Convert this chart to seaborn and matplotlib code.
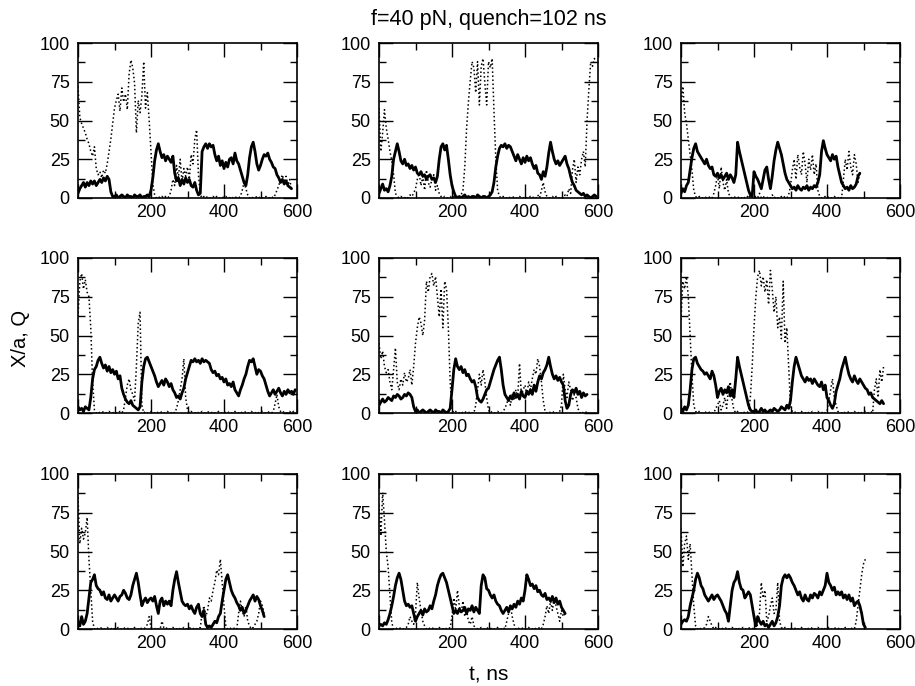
import matplotlib
matplotlib.use("Agg")
import matplotlib.pyplot as plt
import numpy as np
import seaborn as sns

# sampling step of the traces (ns)
DT = 5

# X/a traces (solid) and Q traces (dotted), row by row
x1 = [3, 6, 8, 10, 7, 10, 8, 11, 9, 11, 8, 10, 12, 10, 13, 11, 14, 12, 4, 1,
      1, 2, 0, 1, 2, 1, 0, 2, 1, 1, 0, 2, 1, 1, 2, 0, 1, 1, 2, 1,
      5, 13, 24, 31, 35, 30, 26, 28, 24, 27, 25, 23, 27, 16, 11, 13, 8, 12, 9, 13,
      10, 12, 8, 7, 10, 5, 2, 3, 30, 33, 35, 32, 35, 33, 34, 28, 24, 27, 21, 24,
      19, 23, 20, 25, 26, 22, 29, 24, 22, 18, 14, 10, 8, 15, 26, 33, 36, 30, 22, 18,
      21, 25, 28, 27, 29, 25, 23, 20, 19, 15, 13, 10, 12, 9, 11, 8, 7, 6]
q1 = [72, 52, 48, 45, 42, 38, 35, 30, 27, 33, 19, 15, 17, 13, 18, 16, 22, 30, 38, 48,
      58, 63, 67, 56, 71, 62, 67, 57, 80, 89, 84, 74, 42, 63, 55, 66, 88, 58, 68, 50,
      30, 9, 2, 0, 1, 0, 1, 0, 1, 0, 1, 5, 12, 8, 21, 13, 25, 10, 19, 14,
      20, 12, 28, 22, 38, 44, 15, 2, 0, 1, 0, 1, 0, 0, 1, 0, 1, 0, 0, 1,
      0, 1, 0, 0, 1, 0, 1, 0, 0, 1, 5, 10, 6, 2, 0, 1, 0, 0, 1, 0,
      1, 0, 0, 1, 0, 0, 1, 0, 2, 5, 8, 12, 15, 10, 14, 8, 12, 6]

x2 = [3, 6, 9, 5, 6, 4, 8, 14, 25, 30, 35, 30, 24, 22, 25, 21, 22, 19, 21, 18,
      20, 16, 15, 17, 14, 15, 12, 14, 15, 12, 13, 10, 14, 25, 33, 35, 31, 34, 25, 15,
      8, 4, 1, 0, 1, 0, 1, 2, 0, 1, 0, 1, 1, 0, 2, 1, 0, 1, 1, 0,
      1, 2, 4, 10, 20, 27, 32, 34, 33, 35, 32, 34, 33, 30, 27, 24, 28, 25, 22, 26,
      23, 27, 24, 26, 22, 19, 21, 16, 15, 12, 17, 14, 20, 29, 36, 30, 25, 22, 24, 21,
      23, 25, 27, 22, 19, 14, 10, 8, 5, 4, 3, 2, 3, 1, 2, 1, 0, 1, 2, 1]
q2 = [58, 30, 42, 57, 45, 38, 30, 24, 15, 3, 1, 0, 1, 0, 0, 1, 0, 2, 1, 3,
      6, 12, 16, 8, 14, 5, 18, 10, 7, 12, 15, 5, 8, 3, 1, 0, 1, 0, 0, 1,
      0, 1, 0, 1, 0, 2, 5, 20, 45, 62, 76, 88, 84, 68, 88, 60, 85, 90, 74, 60,
      88, 84, 90, 56, 25, 5, 1, 0, 1, 0, 0, 1, 0, 0, 1, 0, 0, 1, 0, 0,
      1, 0, 0, 1, 0, 1, 0, 2, 0, 5, 10, 4, 1, 0, 0, 1, 0, 1, 0, 0,
      1, 0, 2, 1, 6, 3, 18, 25, 10, 20, 15, 25, 30, 20, 50, 70, 88, 85, 90, 88]

x3 = [3, 6, 4, 8, 10, 18, 26, 32, 35, 30, 28, 26, 24, 22, 25, 21, 19, 20, 15, 14,
      16, 13, 15, 12, 14, 16, 12, 15, 13, 10, 15, 36, 30, 25, 20, 15, 10, 5, 2, 1,
      17, 14, 12, 9, 6, 12, 18, 20, 12, 6, 14, 24, 31, 36, 32, 28, 22, 16, 12, 10,
      8, 6, 7, 5, 8, 6, 5, 7, 6, 8, 5, 7, 6, 8, 7, 10, 15, 30, 37, 32,
      28, 26, 24, 28, 25, 27, 20, 15, 10, 8, 6, 7, 5, 8, 6, 7, 9, 14, 16]
q3 = [60, 72, 55, 48, 38, 28, 18, 5, 1, 0, 1, 0, 0, 1, 0, 0, 1, 0, 3, 8,
      15, 6, 20, 10, 5, 12, 3, 1, 0, 1, 0, 0, 1, 0, 1, 0, 0, 2, 0, 1,
      0, 1, 0, 3, 0, 1, 0, 0, 1, 0, 2, 0, 1, 0, 0, 1, 0, 1, 0, 2,
      8, 18, 25, 12, 28, 20, 15, 30, 22, 10, 25, 18, 28, 15, 22, 5, 1, 0, 0, 1,
      0, 1, 0, 0, 1, 0, 0, 1, 0, 12, 25, 18, 30, 20, 15, 28, 22, 10, 16]

x4 = [4, 2, 3, 1, 4, 3, 2, 10, 22, 28, 30, 34, 36, 32, 29, 31, 27, 30, 26, 28,
      25, 27, 22, 24, 16, 12, 9, 7, 6, 8, 5, 4, 3, 2, 4, 20, 30, 35, 36, 33,
      30, 27, 24, 20, 17, 19, 21, 18, 22, 20, 17, 19, 15, 13, 10, 11, 9, 13, 16, 22,
      26, 30, 34, 33, 35, 33, 34, 32, 35, 33, 34, 33, 32, 28, 26, 27, 24, 25, 22, 23,
      20, 22, 18, 19, 17, 20, 15, 13, 11, 15, 18, 22, 25, 30, 34, 33, 35, 30, 25, 28,
      27, 24, 22, 18, 14, 11, 13, 15, 12, 14, 16, 13, 11, 14, 12, 15, 13, 14, 12, 15]
q4 = [62, 85, 90, 80, 86, 78, 75, 55, 20, 2, 0, 1, 0, 0, 1, 0, 0, 1, 0, 0,
      1, 0, 0, 1, 0, 2, 10, 18, 22, 15, 12, 8, 30, 58, 65, 5, 0, 1, 0, 0,
      1, 0, 0, 1, 0, 0, 1, 0, 0, 1, 0, 0, 1, 0, 3, 8, 15, 22, 35, 10,
      2, 0, 1, 0, 0, 1, 0, 0, 1, 0, 0, 1, 0, 0, 1, 0, 0, 1, 0, 0,
      1, 0, 0, 1, 0, 0, 1, 0, 0, 1, 0, 0, 1, 0, 0, 1, 0, 0, 1, 0,
      0, 1, 0, 0, 1, 0, 0, 1, 6, 12, 4, 1, 0, 1, 0, 0, 1, 0, 1, 0]

x5 = [5, 7, 9, 7, 8, 10, 9, 8, 11, 10, 12, 11, 9, 10, 12, 11, 13, 12, 10, 4,
      1, 2, 0, 1, 2, 1, 0, 1, 2, 1, 0, 2, 1, 1, 0, 2, 1, 0, 1, 3,
      15, 28, 35, 30, 28, 30, 26, 28, 24, 25, 22, 20, 21, 17, 10, 8, 7, 9, 12, 15,
      16, 20, 24, 28, 31, 34, 36, 28, 18, 12, 10, 8, 11, 9, 13, 10, 12, 9, 14, 11,
      10, 14, 12, 15, 12, 18, 14, 20, 24, 22, 26, 28, 31, 36, 30, 25, 22, 24, 21, 23,
      20, 18, 8, 3, 5, 12, 15, 13, 16, 12, 14, 10, 13, 11, 12]
q5 = [45, 35, 40, 30, 26, 28, 20, 15, 28, 42, 20, 15, 22, 18, 26, 20, 22, 28, 18, 30,
      45, 55, 62, 58, 50, 60, 85, 78, 88, 90, 82, 88, 75, 62, 80, 55, 85, 80, 55, 20,
      2, 0, 1, 0, 0, 1, 0, 1, 0, 0, 1, 0, 0, 5, 15, 25, 18, 28, 20, 10,
      2, 0, 1, 0, 0, 1, 0, 0, 1, 3, 6, 10, 5, 12, 8, 15, 10, 32, 12, 15,
      18, 12, 20, 15, 22, 28, 25, 35, 30, 20, 8, 1, 0, 1, 0, 0, 1, 0, 0, 1,
      5, 25, 15, 10, 20, 15, 8, 12, 10, 3, 0, 1, 0, 1, 0]

x6 = [3, 1, 4, 2, 5, 15, 28, 35, 36, 32, 30, 28, 27, 25, 26, 24, 22, 27, 24, 18,
      10, 14, 16, 12, 15, 13, 17, 11, 15, 10, 22, 36, 30, 25, 20, 15, 10, 5, 2, 1,
      1, 2, 0, 1, 3, 1, 2, 0, 1, 2, 1, 3, 2, 1, 2, 4, 3, 2, 5, 3,
      8, 20, 30, 36, 32, 28, 24, 22, 20, 23, 21, 22, 19, 22, 20, 18, 17, 20, 15, 18,
      10, 8, 5, 3, 6, 14, 18, 22, 28, 32, 36, 30, 25, 22, 20, 24, 21, 19, 22, 20,
      18, 16, 15, 12, 13, 10, 9, 8, 7, 6, 8, 6]
q6 = [60, 85, 80, 88, 75, 50, 25, 5, 1, 0, 1, 0, 0, 1, 0, 0, 1, 0, 0, 3,
      5, 8, 2, 5, 10, 3, 15, 20, 8, 2, 0, 1, 0, 0, 1, 0, 0, 1, 10, 30,
      55, 75, 88, 92, 82, 88, 78, 86, 70, 92, 80, 65, 75, 55, 62, 48, 85, 45, 55, 30,
      5, 1, 0, 1, 0, 0, 1, 0, 0, 1, 0, 0, 1, 0, 0, 1, 0, 0, 1, 0,
      1, 8, 15, 22, 10, 5, 1, 0, 0, 1, 0, 0, 1, 0, 0, 1, 0, 0, 1, 0,
      0, 1, 0, 0, 1, 0, 15, 22, 10, 28, 20, 30]

x7 = [5, 2, 8, 3, 5, 10, 20, 30, 32, 35, 28, 26, 25, 22, 24, 20, 19, 22, 18, 20,
      22, 20, 18, 21, 22, 25, 23, 20, 19, 22, 28, 32, 36, 30, 22, 15, 18, 20, 17, 19,
      20, 18, 21, 15, 10, 18, 20, 15, 18, 16, 18, 15, 25, 32, 37, 30, 24, 18, 16, 15,
      16, 13, 15, 12, 10, 14, 16, 10, 8, 12, 3, 1, 2, 1, 3, 5, 4, 8, 10, 18,
      25, 32, 35, 30, 25, 22, 20, 17, 15, 12, 14, 10, 12, 15, 18, 20, 22, 18, 21, 19,
      15, 12, 8]
q7 = [85, 55, 65, 58, 62, 72, 45, 25, 5, 0, 1, 0, 0, 1, 0, 0, 1, 0, 0, 1,
      0, 0, 1, 0, 0, 1, 0, 0, 1, 0, 0, 1, 0, 0, 1, 0, 0, 1, 3, 8,
      1, 0, 0, 1, 0, 0, 5, 1, 0, 1, 0, 0, 1, 0, 0, 1, 0, 0, 1, 0,
      0, 1, 0, 0, 1, 0, 0, 1, 10, 15, 8, 12, 20, 18, 25, 30, 38, 35, 45, 30,
      15, 2, 0, 1, 0, 0, 1, 0, 10, 18, 12, 8, 15, 5, 2, 0, 1, 3, 5, 10,
      18, 15, 10]

x8 = [2, 3, 2, 4, 3, 6, 10, 15, 21, 28, 33, 36, 32, 25, 18, 15, 16, 14, 15, 10,
      5, 8, 10, 12, 9, 13, 11, 12, 15, 13, 18, 22, 28, 32, 35, 36, 33, 30, 25, 20,
      15, 10, 12, 10, 13, 11, 12, 14, 10, 13, 12, 15, 11, 14, 12, 10, 28, 35, 33, 26,
      25, 22, 20, 22, 18, 16, 15, 12, 10, 12, 14, 11, 15, 13, 16, 14, 18, 16, 20, 18,
      25, 35, 32, 28, 29, 26, 28, 24, 25, 22, 21, 23, 19, 20, 18, 21, 17, 20, 16, 18,
      14, 12, 10]
q8 = [80, 60, 88, 70, 50, 40, 22, 4, 0, 1, 0, 0, 1, 0, 0, 1, 3, 8, 5, 3,
      10, 30, 20, 12, 5, 2, 0, 1, 0, 0, 1, 0, 0, 1, 0, 0, 1, 0, 0, 1,
      8, 20, 12, 25, 15, 10, 18, 8, 12, 5, 3, 8, 2, 1, 0, 0, 1, 0, 0, 1,
      0, 0, 1, 0, 0, 1, 0, 0, 1, 0, 5, 10, 15, 8, 3, 0, 1, 0, 0, 1,
      0, 0, 1, 0, 0, 1, 0, 0, 1, 0, 3, 8, 15, 10, 18, 12, 20, 15, 10, 5,
      12, 8, 10]

x9 = [3, 5, 6, 5, 8, 15, 20, 25, 32, 36, 33, 28, 26, 22, 20, 18, 20, 22, 19, 21,
      22, 20, 18, 15, 12, 10, 5, 15, 25, 30, 32, 37, 30, 26, 25, 20, 22, 24, 22, 15,
      8, 2, 8, 5, 3, 5, 2, 3, 1, 3, 5, 2, 4, 8, 15, 28, 33, 35, 33, 35,
      33, 30, 28, 25, 22, 24, 20, 18, 22, 19, 18, 22, 20, 23, 22, 20, 24, 22, 25, 28,
      36, 30, 28, 25, 27, 22, 24, 22, 24, 20, 22, 19, 22, 18, 20, 15, 17, 18, 15, 10,
      3, 1]
q9 = [65, 40, 55, 60, 45, 55, 35, 15, 2, 0, 1, 0, 0, 1, 3, 8, 5, 2, 0, 1,
      0, 0, 1, 0, 0, 1, 0, 0, 1, 0, 0, 1, 0, 0, 1, 0, 0, 1, 0, 0,
      1, 0, 3, 10, 30, 20, 25, 5, 8, 15, 20, 10, 12, 30, 5, 1, 0, 1, 0, 0,
      1, 0, 0, 1, 0, 0, 1, 0, 0, 1, 0, 0, 1, 0, 0, 1, 0, 0, 1, 0,
      0, 1, 0, 0, 1, 0, 0, 1, 0, 0, 1, 0, 0, 1, 0, 0, 5, 15, 25, 35,
      42, 45]

x_ticks = [0, 200, 400, 600]
x_tick_labels = ["", "200", "400", "600"]
y_ticks = [0, 25, 50, 75, 100]

panels = [(x1, q1), (x2, q2), (x3, q3),
          (x4, q4), (x5, q5), (x6, q6),
          (x7, q7), (x8, q8), (x9, q9)]

sns.set_style("ticks")
plt.rcParams["font.family"] = ["Liberation Sans", "DejaVu Sans"]
plt.rcParams["text.color"] = "black"

fig = plt.figure(figsize=(9.15, 6.86), dpi=100)

lefts = [78 / 915, 379 / 915, 681 / 915]
bottoms = [1 - 198 / 686, 1 - 413 / 686, 1 - 629 / 686]
w = 219 / 915
h = 155 / 686

for i, (xv, qv) in enumerate(panels):
    r, c = divmod(i, 3)
    ax = fig.add_axes([lefts[c], bottoms[r], w, h])
    tx = np.arange(len(xv)) * DT
    tq = np.arange(len(qv)) * DT
    sns.lineplot(x=tq, y=qv, ax=ax, color="black", linewidth=1.1,
                 linestyle=":", estimator=None, sort=False)
    sns.lineplot(x=tx, y=xv, ax=ax, color="black", linewidth=2.0,
                 estimator=None, sort=False)
    ax.set_xlim(0, 600)
    ax.set_ylim(0, 100)
    ax.set_xticks(x_ticks)
    ax.set_xticklabels(x_tick_labels)
    ax.set_xticks([100, 300, 500], minor=True)
    ax.set_yticks(y_ticks)
    ax.set_yticks([12.5, 37.5, 62.5, 87.5], minor=True)
    ax.tick_params(which="both", direction="in", top=True, right=True,
                   width=1.0, colors="black", labelsize=13)
    ax.tick_params(which="major", length=10)
    ax.tick_params(which="minor", length=5)
    ax.tick_params(axis="y", pad=6)
    ax.tick_params(axis="x", pad=4)
    ax.set_xlabel("")
    ax.set_ylabel("")
    for sp in ax.spines.values():
        sp.set_visible(True)
        sp.set_linewidth(1.2)
        sp.set_color("black")

fig.text(489 / 915, 1 - 20 / 686, "f=40 pN, quench=102 ns", ha="center",
         va="center", fontsize=15.5, color="black")
fig.text(20 / 915, 1 - 338 / 686, "X/a, Q", ha="center", va="center",
         rotation=90, fontsize=14.5, color="black")
fig.text(489 / 915, 1 - 675 / 686, "t, ns", ha="center", va="center",
         fontsize=15, color="black")

fig.savefig("out.png", dpi=100)
